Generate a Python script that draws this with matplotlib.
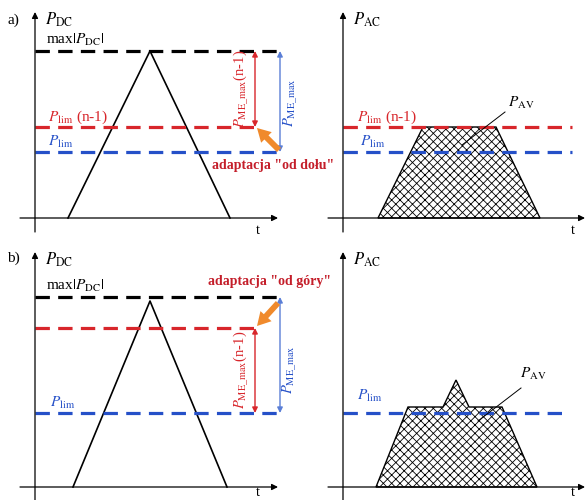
import matplotlib.pyplot as plt
from matplotlib.patches import Polygon

plt.rcParams['font.family'] = ['Liberation Serif', 'DejaVu Serif']
plt.rcParams['mathtext.fontset'] = 'stix'
plt.rcParams['hatch.linewidth'] = 0.6

RED = '#d8262b'
BLUE = '#2550c8'
LBLUE = '#5a7ed6'
DRED = '#c41e2a'
ORANGE = '#f08a2c'

# power levels (relative to t axis) for each panel
lvl_a = {'max': 167, 'lim_prev': 91, 'lim': 66}
lvl_b = {'max': 190, 'lim_prev': 159, 'lim': 74}

# DC triangle profiles
t_dc_a = [33, 115, 195]
p_dc_a = [0, 167, 0]
t_dc_b = [38, 115, 192]
p_dc_b = [0, 186, 0]

# AC (clipped) profiles
t_ac_a = [35, 80, 153, 197]
p_ac_a = [0, 91, 91, 0]
t_ac_b = [33, 65, 100, 113, 126, 159, 194]
p_ac_b = [0, 80, 80, 107, 80, 80, 0]

W, H = 586, 500
fig = plt.figure(figsize=(5.86, 5.0), dpi=100)


def make_ax(x0, y0, x1, y1, ox, oy):
    # pixel box, origin of the axes in pixels
    ax = fig.add_axes([x0 / W, (H - y1) / H, (x1 - x0) / W, (y1 - y0) / H])
    ax.set_xlim(x0 - ox, x1 - ox)
    ax.set_ylim(oy - y1, oy - y0)
    ax.axis('off')
    return ax


def axes_arrows(ax, ytop, ybot, xleft, xright, ylab, tpos):
    ax.annotate('', xy=(0, ytop), xytext=(0, ybot),
                arrowprops=dict(arrowstyle='-|>', color='k', lw=0.9,
                                mutation_scale=9, shrinkA=0, shrinkB=0))
    ax.annotate('', xy=(xright, 0), xytext=(xleft, 0),
                arrowprops=dict(arrowstyle='-|>', color='k', lw=0.9,
                                mutation_scale=9, shrinkA=0, shrinkB=0))
    ax.text(10, ytop - 8, ylab, fontsize=12, va='center', ha='left')
    ax.text(tpos[0], tpos[1], 't', fontsize=10.5, va='center', ha='center')


def dash(ax, y, x1, color):
    ax.plot([0, x1], [y, y], color=color, lw=2.3, dashes=(4.5, 2.6))


def dbl_arrow(ax, x, y1, y2, color):
    ax.annotate('', xy=(x, y1), xytext=(x, y2),
                arrowprops=dict(arrowstyle='<|-|>', color=color, lw=1.0,
                                mutation_scale=8, shrinkA=0, shrinkB=0))


def orange(ax, p_from, p_to):
    ax.annotate('', xy=p_to, xytext=p_from,
                arrowprops=dict(arrowstyle='simple,head_width=0.9,head_length=0.8,tail_width=0.35',
                                color=ORANGE, lw=0, mutation_scale=12,
                                shrinkA=0, shrinkB=0))


def hatched(ax, t, p):
    pts = list(zip(t, p))
    ax.add_patch(Polygon(pts, closed=True, facecolor='white', edgecolor='k',
                         lw=1.0, hatch='xxxx'))


P_DC = r'$P_{\mathrm{DC}}$'
P_AC = r'$P_{\mathrm{AC}}$'
P_LIM = r'$P_{\mathrm{lim}}$'
P_AV = r'$P_{\mathrm{AV}}$'
P_MAX = r'max$|P_{\mathrm{DC}}|$'
P_ME1 = r'$P_{\mathrm{ME\_max}}$(n-1)'
P_ME = r'$P_{\mathrm{ME\_max}}$'

# ---- a) left
ax = make_ax(0, 0, 295, 240, 35, 218)
axes_arrows(ax, 206, -14, -15, 243, P_DC, (223, -13))
ax.text(-22, 198, 'a)', fontsize=11, va='center', ha='center')
ax.plot(t_dc_a, p_dc_a, color='k', lw=1.2)
dash(ax, lvl_a['max'], 243, 'k')
dash(ax, lvl_a['lim_prev'], 223, RED)
dash(ax, lvl_a['lim'], 243, BLUE)
ax.text(11, 178, P_MAX, fontsize=11, va='center')
ax.text(13, 101, P_LIM + ' (n-1)', fontsize=11, va='center', color=RED)
ax.text(13, 76, P_LIM, fontsize=11, va='center', color=BLUE)
dbl_arrow(ax, 220, lvl_a['max'], lvl_a['lim_prev'], RED)
dbl_arrow(ax, 245, lvl_a['max'], lvl_a['lim'], LBLUE)
ax.text(206, 129, P_ME1, fontsize=10.5, rotation=90, color=RED,
        va='center', ha='center')
ax.text(256, 115, P_ME, fontsize=10.5, rotation=90, color=BLUE,
        va='center', ha='center')
orange(ax, (244, 68), (222, 90))
ax.text(238, 53, 'adaptacja "od dołu"', fontsize=10, fontweight='bold',
        color=DRED, va='center', ha='center')

# ---- a) right
ax = make_ax(300, 0, 586, 240, 343, 218)
axes_arrows(ax, 206, -14, -15, 242, P_AC, (230, -13))
hatched(ax, t_ac_a, p_ac_a)
dash(ax, lvl_a['lim_prev'], 229, RED)
dash(ax, lvl_a['lim'], 229, BLUE)
ax.text(14, 101, P_LIM + ' (n-1)', fontsize=11, va='center', color=RED)
ax.text(17, 76, P_LIM, fontsize=11, va='center', color=BLUE)
ax.text(165, 115, P_AV, fontsize=11, va='center')
ax.plot([119, 162], [73, 106], color='k', lw=0.7)

# ---- b) left
ax = make_ax(0, 245, 295, 500, 35, 487)
axes_arrows(ax, 235, -13, -15, 243, P_DC, (223, -6))
ax.text(-22, 229, 'b)', fontsize=11, va='center', ha='center')
ax.plot(t_dc_b, p_dc_b, color='k', lw=1.2)
dash(ax, lvl_b['max'], 243, 'k')
dash(ax, lvl_b['lim_prev'], 223, RED)
dash(ax, lvl_b['lim'], 243, BLUE)
ax.text(11, 201, P_MAX, fontsize=11, va='center')
ax.text(15, 84, P_LIM, fontsize=11, va='center', color=BLUE)
dbl_arrow(ax, 220, lvl_b['lim_prev'], lvl_b['lim'], RED)
dbl_arrow(ax, 245, lvl_b['max'], lvl_b['lim'], LBLUE)
ax.text(206, 117, P_ME1, fontsize=10.5, rotation=90, color=RED,
        va='center', ha='center')
ax.text(255, 117, P_ME, fontsize=10.5, rotation=90, color=BLUE,
        va='center', ha='center')
orange(ax, (243, 184), (222, 161))
ax.text(235, 206, 'adaptacja "od góry"', fontsize=10, fontweight='bold',
        color=DRED, va='center', ha='center')

# ---- b) right
ax = make_ax(300, 245, 586, 500, 343, 487)
axes_arrows(ax, 235, -13, -15, 242, P_AC, (230, -6))
hatched(ax, t_ac_b, p_ac_b)
dash(ax, lvl_b['lim'], 224, BLUE)
ax.text(14, 91, P_LIM, fontsize=11, va='center', color=BLUE)
ax.text(177, 113, P_AV, fontsize=11, va='center')
ax.plot([135, 178], [66, 99], color='k', lw=0.7)

fig.savefig('out.png', dpi=100, facecolor='white')
